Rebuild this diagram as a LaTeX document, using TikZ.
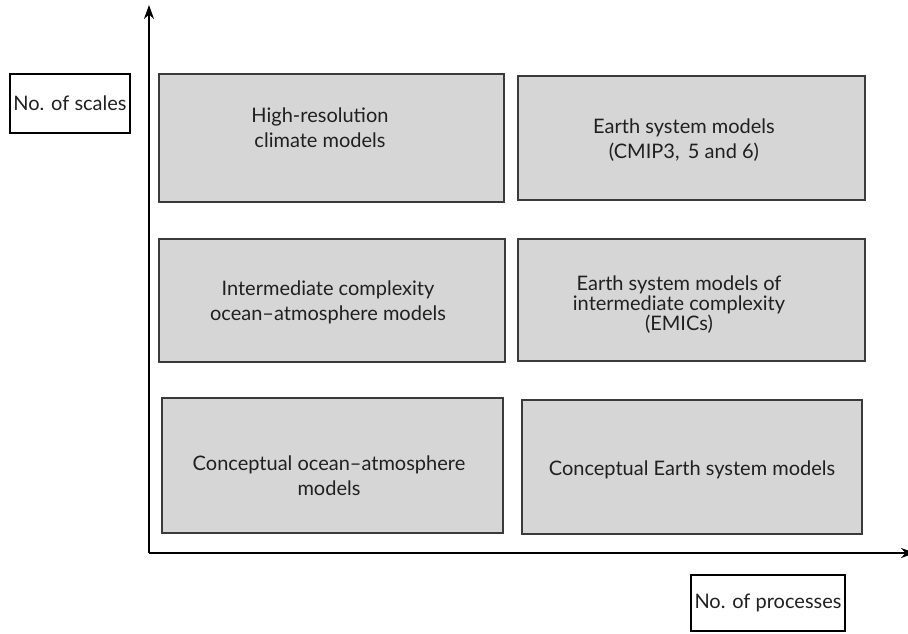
\documentclass[tikz,border=0pt]{standalone}
\usepackage{fontspec}
\setmainfont{Lato}
\usetikzlibrary{arrows.meta}

\definecolor{boxfill}{HTML}{D6D6D6}
\definecolor{boxline}{HTML}{3A3A3A}
\definecolor{inktext}{HTML}{202020}

\tikzset{
  axis/.style={line width=2.2pt, -{Stealth[length=14pt,width=10pt]}},
  modelbox/.style={draw=boxline, fill=boxfill, line width=1.8pt, inner sep=0pt},
  labelbox/.style={draw=black, fill=white, line width=1.5pt, inner sep=0pt,
                   text=inktext, font=\fontsize{20}{24}\selectfont},
  boxtext/.style={align=center, inner sep=0pt, text=inktext, font=\fontsize{20}{25}\selectfont}
}

\begin{document}
\begin{tikzpicture}[x=1pt, y=-1pt]
            \useasboundingbox (0,0) rectangle (908,633);
            %
            \coordinate (origin) at (149,553);
            \coordinate (ytop) at (149,5);
            \coordinate (xend) at (915,553);
            \draw[axis] (origin) -- (ytop);
            \draw[axis] (origin) -- (xend);
            %
            \node[labelbox, minimum width=120pt, minimum height=59pt] (scales) at (70,103.5) {No. of scales};
            \node[labelbox, minimum width=154pt, minimum height=56pt] (processes) at (768,603) {No. of processes};
            %
            \node[modelbox, minimum width=345pt, minimum height=128pt] (hires) at (331.5,138) {};
            \node[boxtext] (hirestext) at (320,127.5) {High-resolution\\climate models};

            \node[modelbox, minimum width=347pt, minimum height=124pt] (esm) at (691.5,138) {};
            \node[boxtext] (esmtext) at (684,140) {Earth system models\\(CMIP3,\, 5 and 6)};
            %
            \node[modelbox, minimum width=346pt, minimum height=123pt] (intoa) at (332,300.5) {};
            \node[boxtext] (intoatext) at (328,302.5) {Intermediate complexity\\ocean--atmosphere models};

            \node[modelbox, minimum width=347pt, minimum height=122pt] (emic) at (691.5,300) {};
            \node[boxtext, font=\fontsize{20}{20}\selectfont] (emictext) at (679,305) {Earth system models of\\intermediate complexity\\(EMICs)};
            %
            \node[modelbox, minimum width=341pt, minimum height=135pt] (concoa) at (332.5,465.5) {};
            \node[boxtext] (concoatext) at (329,475.5) {Conceptual ocean--atmosphere\\models};

            \node[modelbox, minimum width=340pt, minimum height=134pt] (concesm) at (692,467) {};
            \node[boxtext] (concesmtext) at (692,470) {Conceptual Earth system models};
        \end{tikzpicture}
\end{document}
